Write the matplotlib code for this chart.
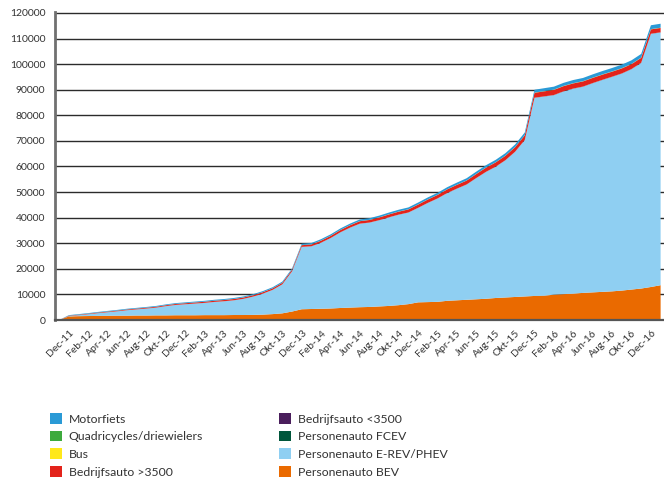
import numpy as np
import matplotlib
matplotlib.use("Agg")
import matplotlib.pyplot as plt
from matplotlib.patches import Patch

plt.rcParams["font.family"] = ["Lato", "DejaVu Sans"]

# monthly points, Nov-11 .. Jan-17
tick_labels = ["Dec-11", "Feb-12", "Apr-12", "Jun-12", "Aug-12", "Okt-12",
               "Dec-12", "Feb-13", "Apr-13", "Jun-13", "Aug-13", "Okt-13",
               "Dec-13", "Feb-14", "Apr-14", "Jun-14", "Aug-14", "Okt-14",
               "Dec-14", "Feb-15", "Apr-15", "Jun-15", "Aug-15", "Okt-15",
               "Dec-15", "Feb-16", "Apr-16", "Jun-16", "Aug-16", "Okt-16",
               "Dec-16"]

bev = [0, 1400, 1500, 1550, 1600, 1650, 1700, 1700, 1750, 1750,
       1800, 1800, 1850, 1850, 1850, 1900, 1900, 1900, 1950, 1950,
       2000, 2100, 2300, 2600, 3300, 4200, 4300, 4400, 4500, 4700,
       4850, 5000, 5100, 5300, 5500, 5800, 6200, 6900, 7000, 7100,
       7500, 7700, 7900, 8100, 8300, 8600, 8800, 9000, 9200, 9400,
       9500, 9900, 10100, 10300, 10600, 10800, 11000, 11200, 11500, 11900,
       12300, 12900, 13600]
phev = [0, 100, 370, 690, 1060, 1380, 1700, 2120, 2390, 2710,
        3030, 3600, 4020, 4290, 4560, 4780, 5150, 5420, 5740, 6310,
        7130, 8200, 9460, 11320, 15680, 24350, 24480, 25810, 27540, 29570,
        31250, 32630, 32960, 33690, 34620, 35350, 35780, 36910, 38740, 40370,
        42090, 43610, 45030, 47350, 49570, 51290, 53610, 56730, 61140, 77420,
        77840, 77960, 79230, 80100, 80570, 81740, 82810, 83830, 84800, 86120,
        88190, 98920, 98770]
fcev = [0] * 40 + [10] * 9 + [20] * 14
bedrijf_lt = [0] + [20] * 24 + [40] * 24 + [60] * 14
bedrijf_gt = [0, 150, 170, 190, 210, 230, 250, 270, 290, 310,
              330, 350, 370, 390, 410, 430, 450, 470, 490, 510,
              530, 550, 570, 590, 610, 650, 700, 750, 800, 850,
              900, 950, 1000, 1050, 1100, 1150, 1200, 1250, 1300, 1350,
              1400, 1450, 1500, 1550, 1600, 1650, 1700, 1750, 1800, 1900,
              1950, 2000, 2000, 2000, 2000, 2000, 2000, 1950, 1950, 1900,
              1900, 1700, 1700]
bus = [0] + [10] * 24 + [20] * 24 + [40] * 14
quad = [0] + [20] * 24 + [40] * 24 + [60] * 14
motor = [0, 200, 210, 220, 230, 240, 250, 260, 270, 280,
         290, 300, 310, 320, 330, 340, 350, 360, 370, 380,
         390, 400, 420, 440, 460, 500, 520, 540, 560, 580,
         600, 620, 640, 660, 680, 700, 720, 740, 760, 780,
         800, 830, 860, 890, 920, 950, 980, 1010, 1050, 1100,
         1130, 1160, 1190, 1220, 1250, 1280, 1310, 1340, 1370, 1400,
         1430, 1500, 1550]

series = [
    ("Personenauto BEV", bev, "#ea6a00"),
    ("Personenauto E-REV/PHEV", phev, "#8fcff2"),
    ("Personenauto FCEV", fcev, "#00563b"),
    ("Bedrijfsauto <3500", bedrijf_lt, "#4a1e5c"),
    ("Bedrijfsauto >3500", bedrijf_gt, "#e3231b"),
    ("Bus", bus, "#ffe81a"),
    ("Quadricycles/driewielers", quad, "#3daa3d"),
    ("Motorfiets", motor, "#2a9ad6"),
]

x = np.arange(len(bev))

fig = plt.figure(figsize=(6.64, 4.83), dpi=100)
ax = fig.add_axes([55 / 664, 1 - 320 / 483, 609 / 664, 308.3 / 483])

ax.stackplot(x, *[s[1] for s in series], colors=[s[2] for s in series],
             linewidth=0, zorder=3)

ax.set_xlim(-0.43, 62.35)
ax.set_ylim(0, 120500)
ax.set_yticks(np.arange(0, 120001, 10000))
ax.set_yticklabels([str(v) for v in range(0, 120001, 10000)])
ax.set_xticks(np.arange(1, 62, 2))
ax.set_xticklabels(tick_labels, rotation=45, ha="right", va="top",
                   rotation_mode="anchor")

ax.grid(axis="y", color="#2b2b2b", linewidth=1.0, zorder=1)
ax.set_axisbelow(True)
for side in ["top", "right"]:
    ax.spines[side].set_visible(False)
ax.spines["left"].set_color("#707070")
ax.spines["left"].set_linewidth(2)
ax.spines["bottom"].set_color("#555555")
ax.spines["bottom"].set_linewidth(1.6)
ax.spines["bottom"].set_zorder(4)
ax.tick_params(axis="both", length=0, labelsize=7.5, colors="#333333")
ax.tick_params(axis="y", pad=7)
ax.tick_params(axis="x", pad=6)

# legend, two columns
lookup = {s[0]: s[2] for s in series}
col1 = ["Motorfiets", "Quadricycles/driewielers", "Bus", "Bedrijfsauto >3500"]
col2 = ["Bedrijfsauto <3500", "Personenauto FCEV", "Personenauto E-REV/PHEV",
        "Personenauto BEV"]
kw = dict(loc="upper left", frameon=False, fontsize=8.8, handlelength=0.97,
          handleheight=0.97, handletextpad=0.55, labelspacing=0.5,
          borderpad=0, borderaxespad=0)
for names, x0 in [(col1, 50), (col2, 279)]:
    handles = [Patch(facecolor=lookup[n], edgecolor="none") for n in names]
    leg = fig.legend(handles, names, bbox_to_anchor=(x0 / 664, 1 - 413 / 483), **kw)
    for t in leg.get_texts():
        t.set_color("#333333")

fig.savefig("out.png", dpi=100)
